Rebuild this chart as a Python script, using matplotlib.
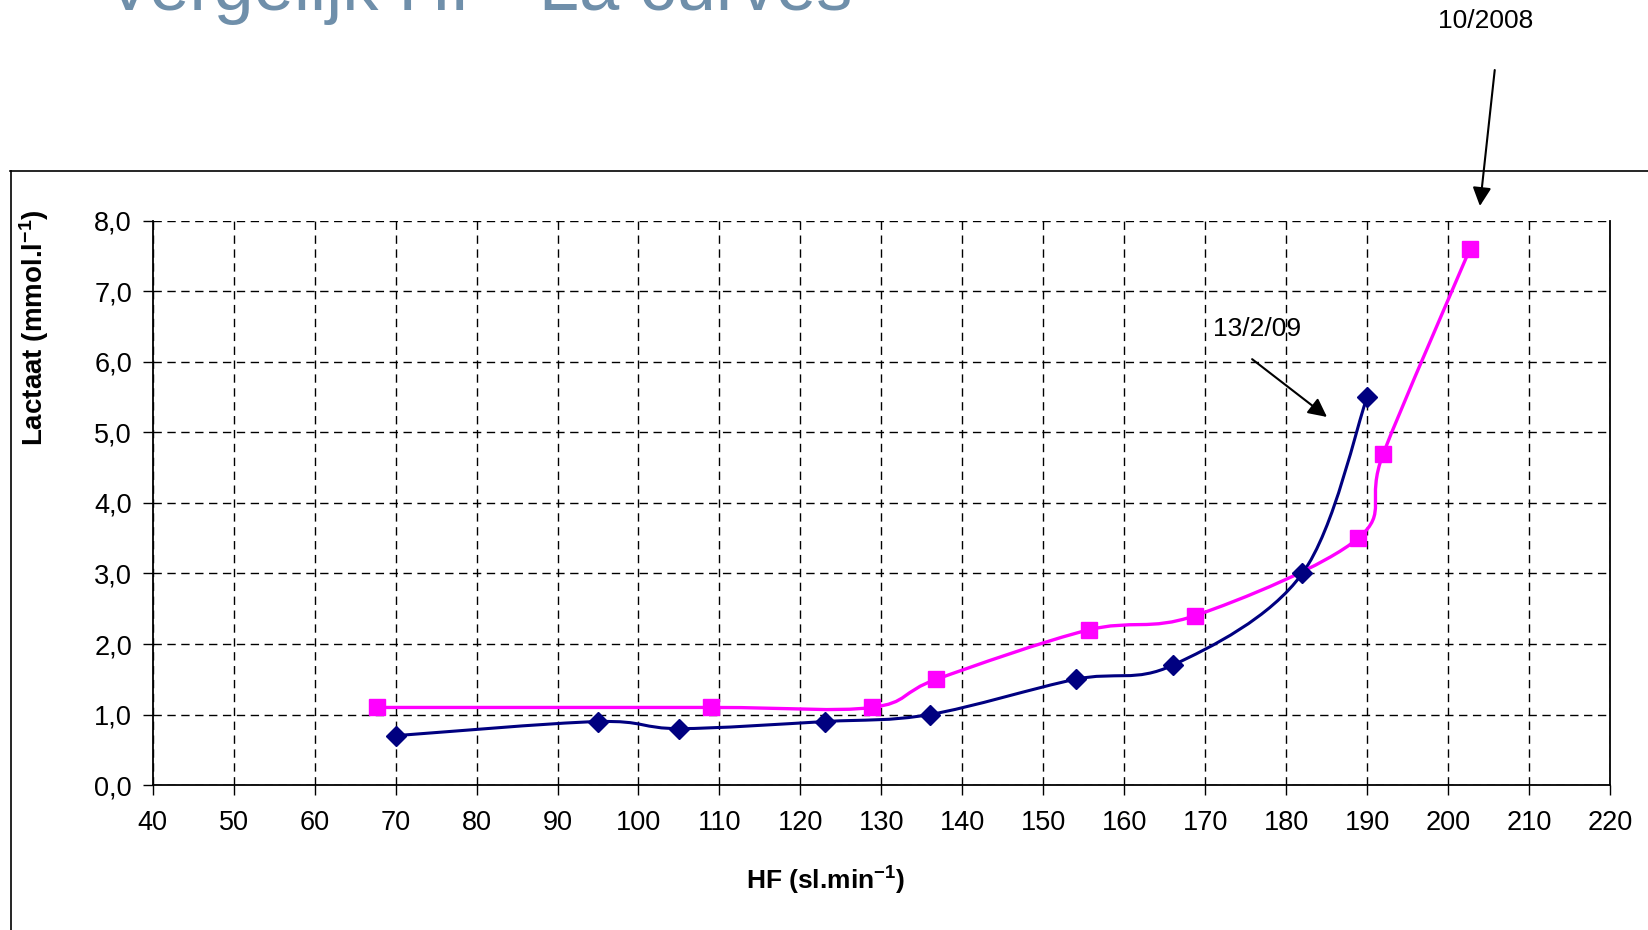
import numpy as np
import matplotlib
matplotlib.use("Agg")
import matplotlib.pyplot as plt
from matplotlib.path import Path
from matplotlib.patches import PathPatch
from matplotlib.lines import Line2D
from matplotlib.ticker import FuncFormatter, MultipleLocator

plt.rcParams["font.family"] = ["Liberation Sans", "DejaVu Sans"]
plt.rcParams["mathtext.fontset"] = "custom"
plt.rcParams["mathtext.rm"] = "Liberation Sans"
plt.rcParams["mathtext.bf"] = "Liberation Sans:bold"

# test 13/2/09
hf_feb09 = [70, 95, 105, 123, 136, 154, 166, 182, 190]
la_feb09 = [0.7, 0.9, 0.8, 0.9, 1.0, 1.5, 1.7, 3.0, 5.5]

# test 10/2008
hf_oct08 = [67.7, 109, 128.8, 136.8, 155.6, 168.7, 188.9, 192, 202.7]
la_oct08 = [1.1, 1.1, 1.1, 1.5, 2.2, 2.4, 3.5, 4.7, 7.6]

x_ticks = list(range(40, 221, 10))
y_ticks = [0, 1, 2, 3, 4, 5, 6, 7, 8]

NAVY = "#000080"
MAGENTA = "#FF00FF"
TITLE_COL = "#6F8FAA"


def smooth_path(xs, ys):
    # spreadsheet-style smoothed line: cubic bezier per segment,
    # tangents from neighbouring points (catmull-rom, 1/6)
    p = np.column_stack([xs, ys]).astype(float)
    n = len(p)
    verts = [p[0]]
    codes = [Path.MOVETO]
    for i in range(n - 1):
        p0 = p[i - 1] if i > 0 else p[i]
        p1, p2 = p[i], p[i + 1]
        p3 = p[i + 2] if i + 2 < n else p[i + 1]
        c1 = p1 + (p2 - p0) / 6.0
        c2 = p2 - (p3 - p1) / 6.0
        verts += [c1, c2, p2]
        codes += [Path.CURVE4] * 3
    return Path(verts, codes)


fig = plt.figure(figsize=(16.48, 9.30), dpi=100)
ax = fig.add_axes([0.0927, 0.1559, 0.9769 - 0.0927, 0.7624 - 0.1559])

ax.set_xlim(x_ticks[0], x_ticks[-1])
ax.set_ylim(y_ticks[0], y_ticks[-1])
ax.set_xticks(x_ticks)
ax.set_yticks(y_ticks)
ax.yaxis.set_major_formatter(FuncFormatter(lambda v, _: f"{v:.1f}".replace(".", ",")))
ax.tick_params(axis="both", direction="out", length=7, width=1, labelsize=19.5, colors="black")
ax.tick_params(axis="y", pad=8)
ax.tick_params(axis="x", pad=11)

ax.grid(True, color="black", linestyle=(0, (6, 4)), linewidth=1)
ax.set_axisbelow(True)
ax.spines["top"].set_visible(False)
for s in ["left", "bottom", "right"]:
    ax.spines[s].set_linewidth(1.3)

for xs, ys, col, lw in [(hf_feb09, la_feb09, NAVY, 2.2), (hf_oct08, la_oct08, MAGENTA, 2.4)]:
    ax.add_patch(PathPatch(smooth_path(xs, ys), facecolor="none", edgecolor=col, lw=lw, zorder=3))

ax.plot(hf_feb09, la_feb09, linestyle="none", marker="D", markersize=10.5, color=NAVY, zorder=4)
ax.plot(hf_oct08, la_oct08, linestyle="none", marker="s", markersize=12, color=MAGENTA, zorder=4)

ax.text(176.4, 6.47, "13/2/09", ha="center", va="center", fontsize=19)
ax.annotate("", xy=(185.05, 5.22), xytext=(175.8, 6.04),
            arrowprops=dict(arrowstyle="-|>", color="black", lw=1.5,
                            mutation_scale=28, shrinkA=0, shrinkB=0))

fig.text(0.9017, 0.977, "10/2008", ha="center", va="center", fontsize=19)
ax.annotate("", xy=(0.898, 0.7785), xytext=(0.907, 0.9247), xycoords="figure fraction",
            textcoords="figure fraction", annotation_clip=False,
            arrowprops=dict(arrowstyle="-|>", color="black", lw=1.5, mutation_scale=28,
                            shrinkA=0, shrinkB=0))

fig.text(34 / 1648, 1 - 328 / 930, r"Lactaat (mmol.l$\mathbf{^{-1}}$)", rotation=90,
         ha="center", va="center", fontsize=20, fontweight="bold")
fig.text(825 / 1648, 1 - 881 / 930, r"HF (sl.min$\mathbf{^{-1}}$)",
         ha="center", va="center", fontsize=19, fontweight="bold")

fig.text(105 / 1648, 1 - 10 / 930, "Vergelijk HF- La curves", ha="left", va="baseline",
         fontsize=52, color=TITLE_COL)

# outer slide frame
fig.add_artist(Line2D([10.5 / 1648, 10.5 / 1648], [0, 1 - 171 / 930], color="black", lw=1.2,
                      transform=fig.transFigure))
fig.add_artist(Line2D([10 / 1648, 1], [1 - 171 / 930, 1 - 171 / 930], color="black", lw=1.2,
                      transform=fig.transFigure))

fig.savefig("out.png", dpi=100)
